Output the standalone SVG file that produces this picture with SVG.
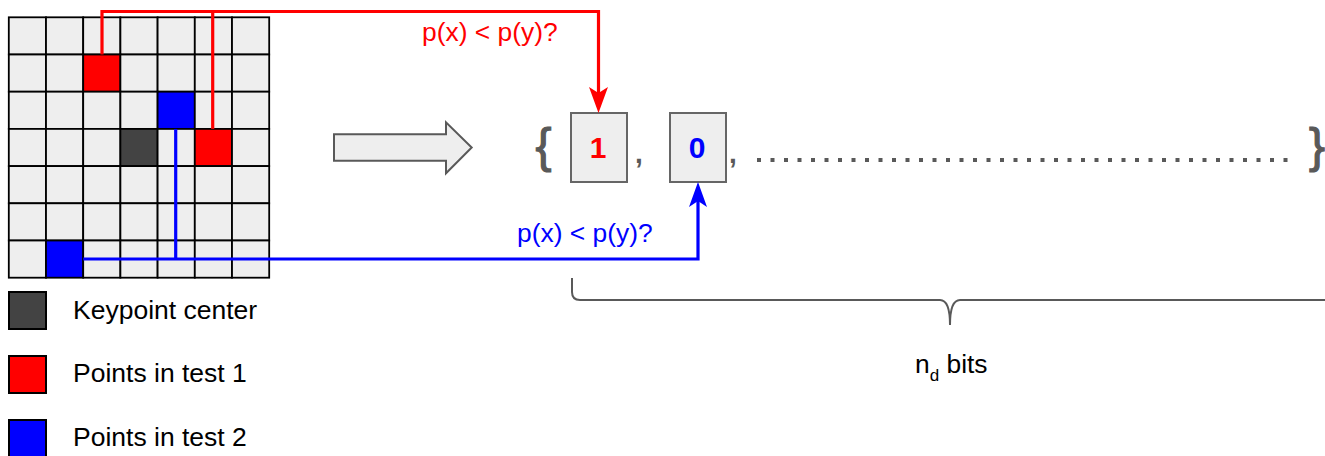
<svg xmlns="http://www.w3.org/2000/svg" width="1325" height="456" viewBox="0 0 1325 456">
<style>
.cell{fill:#eeeeee;stroke:#000;stroke-width:1.8}
.red{fill:#ff0000}
.blue{fill:#0000ff}
.dark{fill:#434343}
.lg{stroke:#000;stroke-width:2}
.txt{font-family:"Liberation Sans",Arial,sans-serif;font-size:26.5px;fill:#000}
.lbl{font-family:"Liberation Sans",Arial,sans-serif;font-size:26.4px}
.gray{fill:#595959;font-family:"Liberation Sans",Arial,sans-serif}
.brc{stroke:#595959;stroke-width:1.2}
.box{fill:#eeeeee;stroke:#666666;stroke-width:2}
.bit{font-family:"Liberation Sans",Arial,sans-serif;font-weight:bold;font-size:30px;text-anchor:middle}
.wire{fill:none;stroke-width:3.2;stroke-linejoin:miter}
</style>

<g id="grid">
<rect class="cell" x="8.8" y="17.3" width="37.2" height="37.2"/><rect class="cell" x="46" y="17.3" width="37.2" height="37.2"/><rect class="cell" x="83.2" y="17.3" width="37.2" height="37.2"/><rect class="cell" x="120.4" y="17.3" width="37.2" height="37.2"/><rect class="cell" x="157.6" y="17.3" width="37.2" height="37.2"/><rect class="cell" x="194.8" y="17.3" width="37.2" height="37.2"/><rect class="cell" x="232" y="17.3" width="37.2" height="37.2"/>
<rect class="cell" x="8.8" y="54.5" width="37.2" height="37.2"/><rect class="cell" x="46" y="54.5" width="37.2" height="37.2"/><rect class="cell red" x="83.2" y="54.5" width="37.2" height="37.2"/><rect class="cell" x="120.4" y="54.5" width="37.2" height="37.2"/><rect class="cell" x="157.6" y="54.5" width="37.2" height="37.2"/><rect class="cell" x="194.8" y="54.5" width="37.2" height="37.2"/><rect class="cell" x="232" y="54.5" width="37.2" height="37.2"/>
<rect class="cell" x="8.8" y="91.7" width="37.2" height="37.2"/><rect class="cell" x="46" y="91.7" width="37.2" height="37.2"/><rect class="cell" x="83.2" y="91.7" width="37.2" height="37.2"/><rect class="cell" x="120.4" y="91.7" width="37.2" height="37.2"/><rect class="cell blue" x="157.6" y="91.7" width="37.2" height="37.2"/><rect class="cell" x="194.8" y="91.7" width="37.2" height="37.2"/><rect class="cell" x="232" y="91.7" width="37.2" height="37.2"/>
<rect class="cell" x="8.8" y="128.9" width="37.2" height="37.2"/><rect class="cell" x="46" y="128.9" width="37.2" height="37.2"/><rect class="cell" x="83.2" y="128.9" width="37.2" height="37.2"/><rect class="cell dark" x="120.4" y="128.9" width="37.2" height="37.2"/><rect class="cell" x="157.6" y="128.9" width="37.2" height="37.2"/><rect class="cell red" x="194.8" y="128.9" width="37.2" height="37.2"/><rect class="cell" x="232" y="128.9" width="37.2" height="37.2"/>
<rect class="cell" x="8.8" y="166.1" width="37.2" height="37.2"/><rect class="cell" x="46" y="166.1" width="37.2" height="37.2"/><rect class="cell" x="83.2" y="166.1" width="37.2" height="37.2"/><rect class="cell" x="120.4" y="166.1" width="37.2" height="37.2"/><rect class="cell" x="157.6" y="166.1" width="37.2" height="37.2"/><rect class="cell" x="194.8" y="166.1" width="37.2" height="37.2"/><rect class="cell" x="232" y="166.1" width="37.2" height="37.2"/>
<rect class="cell" x="8.8" y="203.3" width="37.2" height="37.2"/><rect class="cell" x="46" y="203.3" width="37.2" height="37.2"/><rect class="cell" x="83.2" y="203.3" width="37.2" height="37.2"/><rect class="cell" x="120.4" y="203.3" width="37.2" height="37.2"/><rect class="cell" x="157.6" y="203.3" width="37.2" height="37.2"/><rect class="cell" x="194.8" y="203.3" width="37.2" height="37.2"/><rect class="cell" x="232" y="203.3" width="37.2" height="37.2"/>
<rect class="cell" x="8.8" y="240.5" width="37.2" height="37.2"/><rect class="cell blue" x="46" y="240.5" width="37.2" height="37.2"/><rect class="cell" x="83.2" y="240.5" width="37.2" height="37.2"/><rect class="cell" x="120.4" y="240.5" width="37.2" height="37.2"/><rect class="cell" x="157.6" y="240.5" width="37.2" height="37.2"/><rect class="cell" x="194.8" y="240.5" width="37.2" height="37.2"/><rect class="cell" x="232" y="240.5" width="37.2" height="37.2"/>
</g>

<g id="legend">
<g id="legend-keypoint"><rect class="lg dark" x="9" y="292" width="37" height="37"/><text class="txt" x="73" y="319">Keypoint center</text></g>
<g id="legend-test1"><rect class="lg red" x="9" y="356" width="37" height="37"/><text class="txt" x="73" y="382">Points in test 1</text></g>
<g id="legend-test2"><rect class="lg blue" x="9" y="420" width="37" height="37"/><text class="txt" x="73" y="446">Points in test 2</text></g>
</g>

<g id="block-arrow">
<path d="M334,134.3 H446 V122.3 L471.7,147.5 L446,173.3 V160.7 H334 Z" fill="#eeeeee" stroke="#595959" stroke-width="2"/>
</g>

<g id="descriptor">
<text class="gray brc" x="535.5" y="161.5" font-size="48">{</text>
<g id="bit1"><rect class="box" x="571" y="113" width="56" height="69"/><text class="bit" x="598" y="158" fill="#ff0000">1</text></g>
<text class="gray" x="635" y="163" font-size="28" font-weight="bold">,</text>
<g id="bit2"><rect class="box" x="670" y="113" width="56" height="69"/><text class="bit" x="697" y="158" fill="#0000ff">0</text></g>
<text class="gray" x="729" y="163" font-size="28" font-weight="bold">,</text>
<line x1="757" y1="160" x2="1297" y2="160" stroke="#595959" stroke-width="4" stroke-dasharray="4 9.5"/>
<text class="gray brc" x="1309" y="161.5" font-size="48">}</text>
</g>

<g id="connectors">
<path class="wire" stroke="#ff0000" d="M102,54.5 V11.5 H598.5 V100"/>
<path class="wire" stroke="#ff0000" d="M212.7,128.9 V11.5"/>
<path d="M598.5,113 L589,87 L598.5,93 L608,87 Z" fill="#ff0000"/>
<path class="wire" stroke="#0000ff" d="M83.2,259 H698 V195"/>
<path class="wire" stroke="#0000ff" d="M175.7,128.9 V259"/>
<path d="M698,182 L689,207 L698,201 L707,207 Z" fill="#0000ff"/>
<text class="lbl" x="422" y="41" fill="#ff0000">p(x) &lt; p(y)?</text>
<text class="lbl" x="517" y="242" fill="#0000ff">p(x) &lt; p(y)?</text>
</g>

<g id="brace">
<path d="M572,278 V292 Q572,300 580,300 H940 Q950,300 950,325 Q950,300 960,300 H1325" fill="none" stroke="#595959" stroke-width="2"/>
<text class="lbl" x="915" y="373" fill="#000" font-size="25.4">n<tspan font-size="17" dy="8">d</tspan><tspan dy="-8"> bits</tspan></text>
</g>
</svg>
